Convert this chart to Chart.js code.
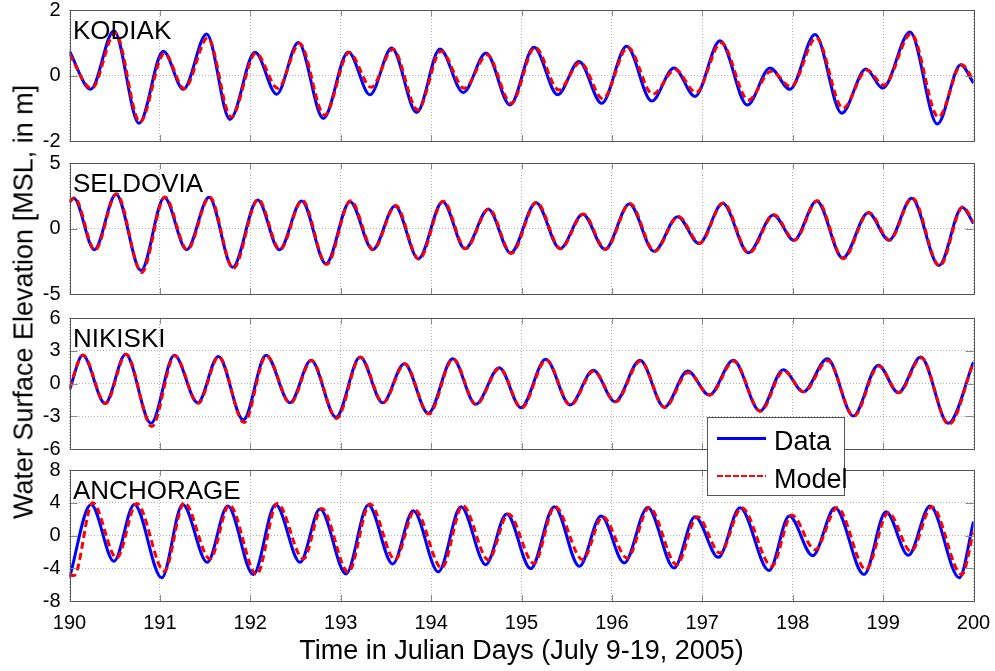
<!DOCTYPE html>
<html>
<head>
<meta charset="utf-8">
<script src="https://cdn.jsdelivr.net/npm/chart.js@4.4.1/dist/chart.umd.min.js"></script>
<style>
  body { margin: 0; background: #fff; }
  #wrap { position: relative; width: 995px; height: 671px; overflow: hidden; font-family: "Liberation Sans", Arial, sans-serif; }
  #wrap canvas { position: absolute; left: 0; }
  #ytitle { position: absolute; left: 24px; top: 302px; transform: translate(-50%, -50%) rotate(-90deg);
    font-size: 27px; line-height: 27px; white-space: nowrap; color: #000; }
  #legend { position: absolute; left: 707px; top: 417px; width: 136px; height: 77px; border: 1px solid #555; background: #fff; }
  #legend .ln { position: absolute; left: 9px; width: 49px; }
  #legend .tx { position: absolute; left: 66px; font-size: 27px; line-height: 27px; color: #000; }
</style>
</head>
<body>
<div id="wrap">
  <canvas id="kodiak" width="995" height="155" style="top:-2px"></canvas>
  <canvas id="seldovia" width="995" height="155" style="top:151px"></canvas>
  <canvas id="nikiski" width="995" height="155" style="top:306px"></canvas>
  <canvas id="anchorage" width="995" height="213" style="top:458px"></canvas>
  <div id="ytitle">Water Surface Elevation [MSL, in m]</div>
  <div id="legend">
    <div class="ln" style="top:19px;border-top:3px solid #0000ff"></div>
    <div class="tx" style="top:10px">Data</div>
    <div class="ln" style="top:57px;height:2px;background:repeating-linear-gradient(90deg,#ff0000 0 6px,transparent 6px 8px)"></div>
    <div class="tx" style="top:48px">Model</div>
  </div>
</div>
<script>
// tide extrema (Julian day, m)
const kodiakDataT = [190.0, 190.234, 190.492, 190.769, 191.038, 191.259, 191.517, 191.775, 192.052, 192.292, 192.531, 192.808, 193.084, 193.324, 193.564, 193.841, 194.098, 194.356, 194.607, 194.873, 195.138, 195.400, 195.636, 195.887, 196.163, 196.440, 196.687, 196.919, 197.196, 197.498, 197.749, 197.970, 198.247, 198.542, 198.810, 198.995, 199.298, 199.600, 199.858, 200.0];
const kodiakDataV = [0.74, -0.42, 1.37, -1.46, 0.74, -0.42, 1.27, -1.34, 0.71, -0.57, 1.01, -1.31, 0.72, -0.59, 0.84, -1.13, 0.81, -0.52, 0.69, -0.90, 0.86, -0.59, 0.43, -0.85, 0.89, -0.78, 0.23, -0.64, 1.06, -0.90, 0.23, -0.42, 1.25, -1.15, 0.20, -0.39, 1.33, -1.48, 0.33, -0.23];
const kodiakModelT = [190.0, 190.245, 190.505, 190.780, 191.050, 191.270, 191.530, 191.788, 192.062, 192.305, 192.545, 192.820, 193.095, 193.336, 193.578, 193.852, 194.110, 194.368, 194.620, 194.885, 195.150, 195.412, 195.650, 195.900, 196.176, 196.452, 196.700, 196.932, 197.208, 197.510, 197.762, 197.982, 198.260, 198.555, 198.822, 199.008, 199.310, 199.612, 199.870, 200.0];
const kodiakModelV = [0.65, -0.40, 1.30, -1.42, 0.68, -0.40, 1.15, -1.27, 0.68, -0.39, 0.98, -1.21, 0.70, -0.36, 0.80, -1.05, 0.74, -0.39, 0.63, -0.85, 0.86, -0.44, 0.40, -0.71, 0.86, -0.57, 0.18, -0.52, 1.00, -0.75, 0.13, -0.34, 1.15, -1.00, 0.17, -0.30, 1.27, -1.27, 0.33, -0.15];

const seldoviaDataT = [190.0, 190.048, 190.275, 190.514, 190.791, 191.049, 191.296, 191.543, 191.805, 192.081, 192.321, 192.568, 192.837, 193.103, 193.354, 193.601, 193.859, 194.128, 194.375, 194.633, 194.880, 195.160, 195.426, 195.677, 195.923, 196.193, 196.466, 196.728, 196.963, 197.226, 197.509, 197.786, 198.014, 198.265, 198.553, 198.836, 199.065, 199.316, 199.618, 199.876, 200.0];
const seldoviaDataV = [2.05, 2.30, -1.62, 2.62, -3.20, 2.36, -1.62, 2.38, -2.95, 2.18, -1.62, 2.10, -2.69, 2.05, -1.62, 1.72, -2.31, 2.05, -1.54, 1.46, -1.87, 1.97, -1.54, 1.08, -1.59, 1.87, -1.74, 0.90, -1.15, 1.92, -1.85, 1.03, -0.90, 2.10, -2.26, 1.21, -0.90, 2.31, -2.82, 1.62, 0.38];
const seldoviaModelT = [190.0, 190.055, 190.282, 190.520, 190.798, 191.056, 191.303, 191.550, 191.812, 192.088, 192.328, 192.575, 192.844, 193.110, 193.361, 193.608, 193.866, 194.135, 194.382, 194.640, 194.887, 195.167, 195.433, 195.684, 195.930, 196.200, 196.473, 196.735, 196.970, 197.233, 197.516, 197.793, 198.021, 198.272, 198.560, 198.843, 199.072, 199.323, 199.625, 199.883, 200.0];
const seldoviaModelV = [2.00, 2.35, -1.65, 2.66, -3.35, 2.40, -1.62, 2.40, -3.05, 2.22, -1.62, 2.15, -2.75, 2.12, -1.60, 1.75, -2.35, 2.08, -1.54, 1.50, -1.90, 2.00, -1.54, 1.10, -1.59, 1.90, -1.74, 0.92, -1.12, 1.95, -1.88, 1.05, -0.90, 2.12, -2.30, 1.23, -0.88, 2.33, -2.86, 1.64, 0.50];

const nikiskiDataT = [190.0, 190.146, 190.393, 190.621, 190.902, 191.160, 191.418, 191.646, 191.923, 192.174, 192.439, 192.672, 192.948, 193.214, 193.464, 193.704, 193.969, 194.239, 194.493, 194.754, 194.994, 195.268, 195.537, 195.794, 196.034, 196.311, 196.580, 196.838, 197.077, 197.343, 197.638, 197.896, 198.117, 198.383, 198.670, 198.947, 199.168, 199.416, 199.721, 200.0];
const nikiskiDataV = [-0.60, 2.58, -1.82, 2.67, -3.64, 2.58, -1.76, 2.48, -3.33, 2.58, -1.76, 2.12, -3.09, 2.42, -1.76, 1.82, -2.73, 2.27, -1.91, 1.45, -2.21, 2.21, -1.97, 1.21, -1.67, 2.12, -2.18, 1.15, -1.06, 2.12, -2.52, 1.27, -0.76, 2.27, -2.97, 1.67, -0.85, 2.42, -3.64, 1.97];
const nikiskiModelT = [190.0, 190.150, 190.398, 190.626, 190.910, 191.165, 191.423, 191.651, 191.930, 192.179, 192.444, 192.677, 192.954, 193.219, 193.469, 193.709, 193.975, 194.244, 194.498, 194.759, 195.000, 195.273, 195.542, 195.799, 196.040, 196.316, 196.585, 196.843, 197.083, 197.348, 197.644, 197.901, 198.123, 198.388, 198.676, 198.952, 199.174, 199.421, 199.727, 200.0];
const nikiskiModelV = [-0.40, 2.60, -1.85, 2.67, -3.94, 2.55, -1.80, 2.45, -3.58, 2.55, -1.80, 2.10, -3.20, 2.40, -1.76, 1.80, -2.80, 2.25, -1.91, 1.40, -2.25, 2.15, -1.97, 1.15, -1.67, 2.05, -2.20, 1.00, -1.06, 2.05, -2.55, 1.15, -0.76, 2.10, -3.00, 1.60, -0.85, 2.35, -3.75, 1.95];

const anchorageDataT = [190.0, 190.238, 190.492, 190.717, 191.020, 191.252, 191.524, 191.750, 192.033, 192.280, 192.550, 192.771, 193.059, 193.305, 193.575, 193.803, 194.080, 194.331, 194.604, 194.836, 195.101, 195.363, 195.640, 195.880, 196.137, 196.396, 196.687, 196.919, 197.177, 197.417, 197.738, 197.962, 198.221, 198.468, 198.789, 199.032, 199.279, 199.519, 199.843, 200.0];
const anchorageDataV = [-5.17, 3.80, -3.15, 3.80, -5.17, 3.80, -3.27, 3.60, -4.77, 3.80, -3.27, 3.23, -4.69, 3.72, -3.47, 3.03, -4.44, 3.52, -3.56, 2.63, -4.04, 3.52, -3.76, 2.38, -3.35, 3.43, -3.96, 2.30, -2.67, 3.39, -4.28, 2.38, -2.46, 3.39, -4.77, 2.91, -2.42, 3.60, -5.17, 1.70];
const anchorageModelT = [190.0, 190.050, 190.256, 190.522, 190.743, 191.049, 191.270, 191.554, 191.768, 192.070, 192.299, 192.587, 192.790, 193.084, 193.324, 193.601, 193.822, 194.117, 194.350, 194.633, 194.854, 195.138, 195.370, 195.677, 195.898, 196.170, 196.413, 196.717, 196.945, 197.196, 197.436, 197.768, 197.990, 198.247, 198.493, 198.810, 199.058, 199.309, 199.538, 199.870, 200.0];
const anchorageModelV = [-4.77, -4.90, 4.00, -2.75, 3.92, -4.36, 4.00, -2.87, 3.72, -4.77, 3.92, -2.87, 3.31, -4.48, 3.84, -2.95, 3.11, -3.96, 3.64, -2.95, 2.63, -3.43, 3.52, -2.95, 2.30, -2.75, 3.43, -3.56, 2.30, -2.14, 3.39, -3.76, 2.50, -1.74, 3.39, -4.16, 2.79, -1.94, 3.52, -4.77, 0.48];

const dayTicks = [190, 191, 192, 193, 194, 195, 196, 197, 198, 199, 200];

Chart.defaults.font.family = '"Liberation Sans", Arial, sans-serif';
Chart.defaults.color = '#000';

const plotLeft = 69.5;
const plotRight = 973.5;
const gridColor = '#b4b4b4';

function pts(t, v) {
  return t.map((x, i) => ({ x: x, y: v[i] }));
}

// box round the axes, inward ticks and station name
const boxPlugin = {
  id: 'box',
  afterDraw(chart, args, opts) {
    const ctx = chart.ctx;
    const a = chart.chartArea;
    ctx.save();
    ctx.strokeStyle = '#8a8a8a';
    ctx.lineWidth = 1;
    ctx.beginPath();
    chart.scales.x.ticks.forEach((t) => {
      const px = Math.round(chart.scales.x.getPixelForValue(t.value)) + 0.5;
      ctx.moveTo(px, a.bottom); ctx.lineTo(px, a.bottom - 6);
      ctx.moveTo(px, a.top); ctx.lineTo(px, a.top + 6);
    });
    chart.scales.y.ticks.forEach((t) => {
      const py = Math.round(chart.scales.y.getPixelForValue(t.value)) + 0.5;
      ctx.moveTo(a.left, py); ctx.lineTo(a.left + 8, py);
      ctx.moveTo(a.right, py); ctx.lineTo(a.right - 8, py);
    });
    ctx.stroke();
    ctx.strokeStyle = '#555';
    ctx.strokeRect(Math.round(a.left) + 0.5, Math.round(a.top) + 0.5, Math.round(a.right - a.left), Math.round(a.bottom - a.top));
    ctx.fillStyle = '#000';
    ctx.font = '26px "Liberation Sans", Arial, sans-serif';
    ctx.textBaseline = 'alphabetic';
    ctx.fillText(opts.text, 73, a.top + 28.5);
    ctx.restore();
  }
};

function makePanel(id, name, dataT, dataV, modelT, modelV, yMin, yMax, yStep, bottom) {
  const xAxis = {
    type: 'linear',
    min: 190,
    max: 200,
    afterBuildTicks: (s) => { s.ticks = dayTicks.map((v) => ({ value: v })); },
    grid: { color: gridColor, drawTicks: false },
    border: { display: false, dash: [1, 2] },
    ticks: { display: bottom, padding: 10, maxRotation: 0, font: { size: 20 } },
    afterFit: (s) => {
      s.height = bottom ? 70 : 0;
      s.paddingLeft = 0; s.paddingRight = 0;
    }
  };
  if (bottom) {
    xAxis.title = {
      display: true,
      text: 'Time in Julian Days (July 9-19, 2005)',
      font: { size: 27 },
      padding: { top: 0, bottom: 3 }
    };
  }
  return new Chart(document.getElementById(id), {
    type: 'line',
    data: {
      datasets: [
        {
          label: 'Data',
          data: pts(dataT, dataV),
          borderColor: '#0000ff',
          borderWidth: 3,
          pointRadius: 0,
          cubicInterpolationMode: 'monotone',
          order: 1
        },
        {
          label: 'Model',
          data: pts(modelT, modelV),
          borderColor: '#ff0000',
          borderWidth: 3,
          borderDash: [7, 4],
          pointRadius: 0,
          cubicInterpolationMode: 'monotone',
          order: 0
        }
      ]
    },
    options: {
      responsive: false,
      animation: false,
      devicePixelRatio: 1,
      events: [],
      layout: { padding: { top: 12, right: 995 - plotRight, bottom: bottom ? 0 : 12, left: 0 } },
      plugins: {
        legend: { display: false },
        tooltip: { enabled: false },
        box: { text: name }
      },
      scales: {
        x: xAxis,
        y: {
          min: yMin,
          max: yMax,
          ticks: { stepSize: yStep, padding: 9, font: { size: 20 } },
          grid: { color: gridColor, drawTicks: false },
          border: { display: false, dash: [1, 2] },
          afterFit: (s) => {
            s.width = plotLeft;
            s.paddingTop = 0; s.paddingBottom = 0;
          }
        }
      }
    },
    plugins: [boxPlugin]
  });
}

makePanel('kodiak', 'KODIAK', kodiakDataT, kodiakDataV, kodiakModelT, kodiakModelV, -2, 2, 2, false);
makePanel('seldovia', 'SELDOVIA', seldoviaDataT, seldoviaDataV, seldoviaModelT, seldoviaModelV, -5, 5, 5, false);
makePanel('nikiski', 'NIKISKI', nikiskiDataT, nikiskiDataV, nikiskiModelT, nikiskiModelV, -6, 6, 3, false);
makePanel('anchorage', 'ANCHORAGE', anchorageDataT, anchorageDataV, anchorageModelT, anchorageModelV, -8, 8, 4, true);
</script>
</body>
</html>
